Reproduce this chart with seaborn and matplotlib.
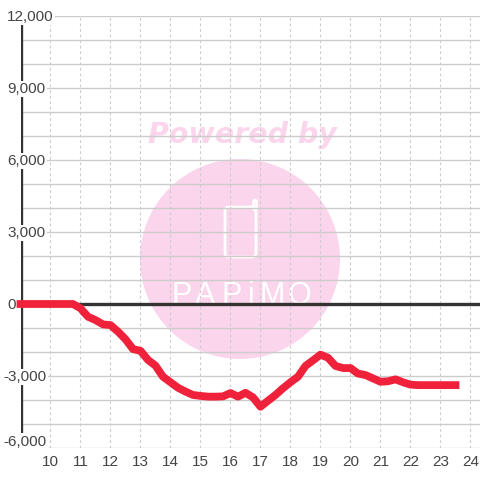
import matplotlib
matplotlib.use("Agg")
import matplotlib.pyplot as plt
from matplotlib.patches import Circle, FancyBboxPatch
from matplotlib.transforms import IdentityTransform
import pandas as pd
import seaborn as sns

hours = [9, 9.25, 9.5, 9.75, 10, 10.25, 10.5, 10.75,
         11, 11.25, 11.5, 11.75, 12, 12.25, 12.5, 12.75,
         13, 13.25, 13.5, 13.75, 14, 14.25, 14.5, 14.75,
         15, 15.25, 15.5, 15.75, 16, 16.25, 16.5, 16.75,
         17, 17.25, 17.5, 17.75, 18, 18.25, 18.5, 18.75,
         19, 19.25, 19.5, 19.75, 20, 20.25, 20.5, 20.75,
         21, 21.25, 21.5, 21.75, 22, 22.25, 22.5, 22.75,
         23, 23.25, 23.5]
balance = [0, 0, 0, 0, 0, 0, 0, 0,
           -180, -530, -670, -850, -880, -1150, -1470, -1880,
           -1950, -2330, -2570, -3030, -3260, -3490, -3650, -3790,
           -3830, -3860, -3860, -3850, -3710, -3860, -3700, -3890,
           -4280, -4030, -3790, -3510, -3260, -3030, -2580, -2350,
           -2110, -2240, -2580, -2670, -2670, -2900, -2960, -3100,
           -3240, -3220, -3140, -3260, -3360, -3380, -3380, -3380,
           -3380, -3380, -3380]

x_ticks = [10, 11, 12, 13, 14, 15, 16, 17, 18, 19, 20, 21, 22, 23, 24]
y_ticks = [-6000, -3000, 0, 3000, 6000, 9000, 12000]
y_labels = ["-6,000", "-3,000", "0", "3,000", "6,000", "9,000", "12,000"]
y_minor = [-5000, -4000, -2000, -1000, 1000, 2000, 4000, 5000, 7000, 8000, 10000, 11000]

logo_letters = ["P", "A", "P", "i", "M", "O"]
logo_centers = [182, 205, 232, 251, 272, 299]

sns.set_style("white")
plt.rcParams["font.family"] = ["Liberation Sans", "DejaVu Sans"]

TEXT = "#444444"
PINK = "#fbd5ec"

df = pd.DataFrame({"hour": hours, "balance": balance})

fig = plt.figure(figsize=(4.8, 4.8), dpi=100, facecolor="white")
ax = fig.add_axes([20.5 / 480, 32 / 480, 459.5 / 480, 432 / 480])
ax.patch.set_visible(False)

# watermark sits behind the grid, positions in pixels
px = IdentityTransform()
fig.add_artist(Circle((240, 480 - 259), 100, transform=px, fc=PINK, ec="none", zorder=-3))
fig.add_artist(FancyBboxPatch((225, 480 - 257), 31, 50, boxstyle="round,pad=0,rounding_size=4",
                              transform=px, fc="none", ec="white", lw=2, zorder=-2))
fig.add_artist(FancyBboxPatch((253.5, 480 - 210), 3, 10, boxstyle="round,pad=0,rounding_size=1.5",
                              transform=px, fc="none", ec="white", lw=1.8, zorder=-2))
fig.text(242 / 480, 1 - 135 / 480, "Powered by", color=PINK, fontsize=20.5, fontweight="bold",
         fontstyle="italic", family="DejaVu Sans", ha="center", va="center", zorder=-2)
for letter, center in zip(logo_letters, logo_centers):
    fig.text(center / 480, 1 - 304 / 480, letter, color="white", fontsize=22,
             ha="center", va="baseline", zorder=-2)

ax.set_xlim(9, 24.317)
ax.set_ylim(-6000, 12000)
ax.set_xticks(x_ticks)
ax.set_yticks(y_ticks)
ax.set_yticks(y_minor, minor=True)
ax.set_yticklabels([])
ax.set_axisbelow(True)
ax.grid(axis="x", color="#cccccc", linestyle=(0, (2.5, 2.5)), linewidth=0.8)
ax.grid(axis="y", which="both", color="#cccccc", linestyle="-", linewidth=1.0)
ax.tick_params(axis="both", which="both", length=0)
ax.tick_params(axis="x", labelsize=11, labelcolor=TEXT, pad=5)
for side in ["top", "right", "left", "bottom"]:
    ax.spines[side].set_visible(False)

ax.axvline(9, color="#333333", linewidth=2.4, zorder=1)
ax.axhline(0, color="#333333", linewidth=2.4, zorder=1)

for value, label in zip(y_ticks, y_labels):
    x_px = 3 if value < 0 else 7
    y_px = 6.5 if value == -6000 else -1
    ax.annotate(label, xy=(0, value), xycoords=ax.get_yaxis_transform(),
                xytext=(x_px - 20.5, y_px), textcoords="offset pixels",
                ha="left", va="center", fontsize=11, color=TEXT, zorder=3, annotation_clip=False,
                bbox=dict(fc="white", ec="none", pad=1))

sns.lineplot(data=df, x="hour", y="balance", ax=ax, color="#f0213a", linewidth=5.6,
             solid_capstyle="projecting", solid_joinstyle="round", zorder=4, clip_on=False,
             errorbar=None)
ax.set_xlabel("")
ax.set_ylabel("")

fig.savefig("out.png", dpi=100)
